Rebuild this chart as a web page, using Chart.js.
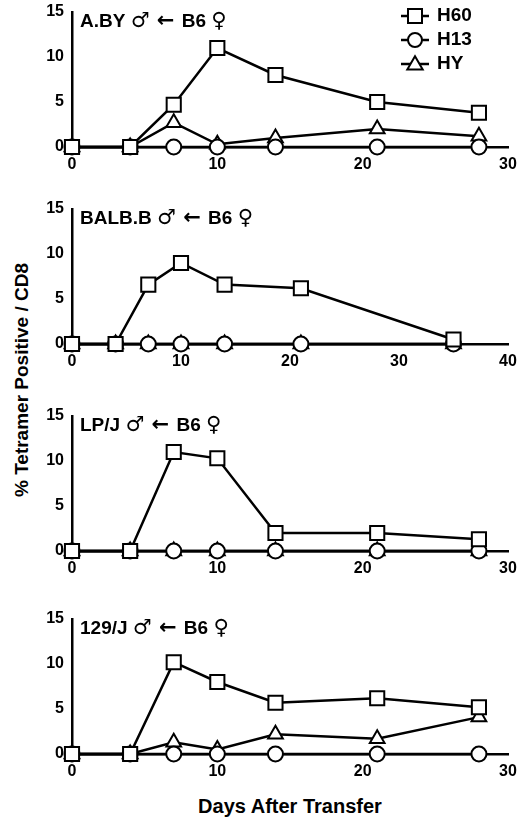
<!DOCTYPE html><html><head><meta charset="utf-8">
<script src="https://cdn.jsdelivr.net/npm/chart.js@4"></script>
<style>body{margin:0;background:#fff;width:520px;height:823px;position:relative;font-family:"Liberation Sans",Arial,sans-serif}
canvas{position:absolute;left:0}
.yl{position:absolute;left:22px;top:380px;transform:translate(-50%,-50%) rotate(-90deg);font-weight:bold;font-size:19px;white-space:nowrap}
.xl{position:absolute;left:290px;top:806px;transform:translate(-50%,-50%);font-weight:bold;font-size:20px;white-space:nowrap}</style>
</head><body>
<div class="yl">% Tetramer Positive / CD8</div>
<div class="xl">Days After Transfer</div>
<script>
const strains=["A.BY","BALB.B","LP/J","129/J"];
const days1=[0,4,7,10,14,21,28];
const days2=[0,4,7,10,14,21,35];
const days3=[0,4,7,10,14,21,28];
const days4=[0,4,7,10,14,21,28];
const xMax=[30,40,30,30];
const h60_1=[0,0,4.7,11,8,5,3.8], h13_1=[0,0,0,0,0,0,0], hy_1=[0,0,2.7,0.3,1,2,1.2];
const h60_2=[0,0,6.6,9,6.6,6.2,0.5], h13_2=[0,0,0,0,0,0,0], hy_2=[0,0,0,0,0,0,0];
const h60_3=[0,0,11,10.3,2,2,1.3], h13_3=[0,0,0,0,0,0,0], hy_3=[0,0,0,0,0,0,0];
const h60_4=[0,0,10.2,8,5.7,6.2,5.2], h13_4=[0,0,0,0,0,0,0], hy_4=[0,0,1.3,0.5,2.2,1.7,4.1];
const seriesNames=["H60","H13","HY"];
const panels=[[days1,h60_1,h13_1,hy_1],[days2,h60_2,h13_2,hy_2],[days3,h60_3,h13_3,hy_3],[days4,h60_4,h13_4,hy_4]];
const tops=[0,197,404,607];
const styles=["rect","circle","triangle"];
const F={family:"'Liberation Sans',Arial",weight:'bold',size:16};
function drawMarker(ctx,style,x,y,r){ctx.beginPath();
 if(style==='rect'){ctx.rect(x-r,y-r,2*r,2*r);}
 else if(style==='circle'){ctx.arc(x,y,r,0,Math.PI*2);}
 else{ctx.moveTo(x,y-r*1.1);ctx.lineTo(x+r*1.1,y+r*0.8);ctx.lineTo(x-r*1.1,y+r*0.8);ctx.closePath();}
 ctx.fillStyle='#fff';ctx.fill();ctx.lineWidth=2;ctx.strokeStyle='#000';ctx.stroke();}
panels.forEach((p,i)=>{
 const w=document.createElement('div');w.style.cssText='position:absolute;left:0;top:'+tops[i]+'px;width:520px;height:177px';
 const c=document.createElement('canvas');w.appendChild(c);document.body.appendChild(w);
 const ds=[1,2,3].map(k=>({label:seriesNames[k-1],data:p[0].map((d,j)=>({x:d,y:p[k][j]})),showLine:true,
  borderColor:'#000',borderWidth:2.5,pointStyle:styles[k-1],pointRadius:k===1?10:(k===2?7.5:8.5),
  pointBackgroundColor:'#fff',pointBorderColor:'#000',pointBorderWidth:2,clip:false,tension:0}));
 new Chart(c,{type:'scatter',data:{datasets:ds},
  options:{responsive:true,maintainAspectRatio:false,animation:false,
   layout:{padding:{top:8,right:12,left:0,bottom:0}},
   plugins:{legend:{display:false},tooltip:{enabled:false}},
   scales:{x:{type:'linear',min:0,max:xMax[i],ticks:{stepSize:10,color:'#000',font:F,padding:2},
     grid:{display:false,drawTicks:true,tickLength:6,tickColor:'#000',tickWidth:2.5},
     border:{color:'#000',width:2.5},afterFit:s=>{s.height=30;}},
    y:{min:0,max:15,ticks:{stepSize:5,color:'#000',font:F,padding:2},
     grid:{display:false,drawTicks:true,tickLength:6,tickColor:'#000',tickWidth:2.5},
     border:{color:'#000',width:2.5},afterFit:s=>{s.width=72;}}}},
  plugins:[{id:'t',afterDraw(ch){const ctx=ch.ctx,a=ch.chartArea;ctx.save();
   ctx.fillStyle='#000';ctx.textBaseline='middle';
   const segs=[[strains[i]+" ","bold 19px 'Liberation Sans',Arial"],["♂","bold 21px 'DejaVu Sans'"],[" ← ","bold 21px 'DejaVu Sans'"],["B6 ","bold 19px 'Liberation Sans',Arial"],["♀","bold 21px 'DejaVu Sans'"]];
   let x=a.left+8;segs.forEach(s=>{ctx.font=s[1];ctx.fillText(s[0],x,a.top+10);x+=ctx.measureText(s[0]).width;});
   if(i===0){const lx=415,ys=[a.top+4,a.top+28,a.top+52];
    seriesNames.forEach((n,k)=>{ctx.beginPath();ctx.moveTo(lx-14,ys[k]);ctx.lineTo(lx+14,ys[k]);ctx.lineWidth=2.5;ctx.strokeStyle='#000';ctx.stroke();
     drawMarker(ctx,styles[k],lx,ys[k],7);ctx.fillStyle='#000';ctx.font="bold 19px 'Liberation Sans',Arial";ctx.fillText(n,lx+22,ys[k]);});}
   ctx.restore();}}]});
});
</script></body></html>
